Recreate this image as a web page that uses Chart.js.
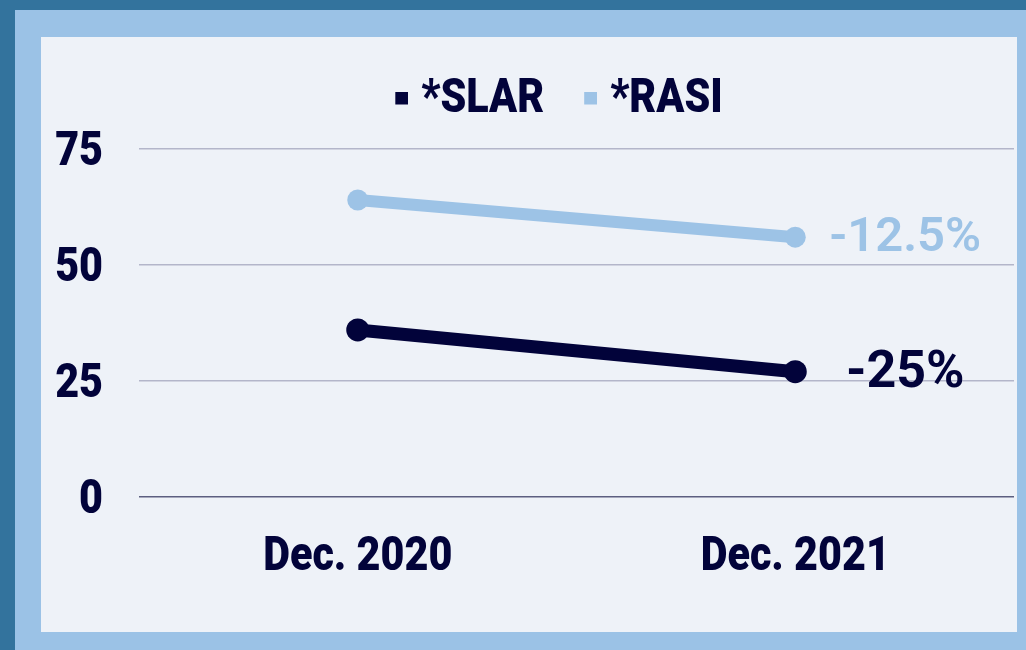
<!DOCTYPE html>
<html>
<head>
<meta charset="utf-8">
<script src="https://cdn.jsdelivr.net/npm/chart.js@4.4.1/dist/chart.umd.min.js"></script>
<style>
    html, body { margin: 0; padding: 0; }
    body { width: 1026px; height: 650px; background: #33739d; position: relative; overflow: hidden; }
    #frame { position: absolute; left: 15px; top: 10px; right: 0; bottom: 0; background: #9bc2e6; }
    #panel { position: absolute; left: 41px; top: 37px; width: 976px; height: 595px; background: #eef2f8; }
</style>
</head>
<body>
<div id="frame"></div>
<div id="panel"><canvas id="chart" width="976" height="595"></canvas></div>
<script>
const categories = ['Dec. 2020', 'Dec. 2021'];
const seriesNames = ['*SLAR', '*RASI'];
const slarValues = [36, 27];
const rasiValues = [64, 56];
const changeLabels = ['-25%', '-12.5%'];
const yTicks = [0, 25, 50, 75];

const NAVY = '#02033a';
const LIGHT = '#9dc3e6';
const FONT = 'Roboto, sans-serif';   // squeezed below, like a condensed face
const FONT_SIZE = 48;
const FONT_WEIGHT = 900;
const SQUEEZE = 0.86;

const LEGEND_H = 102;
const LEGEND_CX = 518;

const canvas = document.getElementById('chart');
const ctx = canvas.getContext('2d');

// no condensed font installed: narrow the label text by hand
const fillTextOrig = ctx.fillText.bind(ctx);
const measureOrig = ctx.measureText.bind(ctx);
const isLabelFont = c => c.font.indexOf('sans-serif') !== -1;
ctx.fillText = function (text, x, y, maxWidth) {
    if (!isLabelFont(this)) return fillTextOrig(text, x, y, maxWidth);
    this.save();
    this.translate(x, y);
    this.scale(SQUEEZE, 1);
    fillTextOrig(text, 0, 0);
    this.restore();
};
ctx.measureText = function (text) {
    const m = measureOrig(text);
    if (!isLabelFont(this)) return m;
    return {
        width: m.width * SQUEEZE,
        actualBoundingBoxAscent: m.actualBoundingBoxAscent,
        actualBoundingBoxDescent: m.actualBoundingBoxDescent
    };
};

// legend square drawn inside a wider canvas so it sits close to its text
function makeSquare(color) {
    const side = 13;
    const off = FONT_SIZE / 2 - side;
    const c = document.createElement('canvas');
    c.width = 2 * (off + side - side / 2);
    c.height = side + 4;
    const g = c.getContext('2d');
    g.fillStyle = color;
    g.fillRect(c.width - side, 0, side, side);
    return c;
}
const legendSquares = [makeSquare(NAVY), makeSquare(LIGHT)];

const layoutPlugin = {
    id: 'layoutFix',
    beforeLayout(chart) {
        const lg = chart.legend;
        if (lg && !lg._patched) {
            const fit = lg.fit;
            lg.fit = function () { fit.call(this); this.height = LEGEND_H; };
            lg._patched = true;
        }
    },
    afterLayout(chart) {
        const lg = chart.legend;
        const shift = FONT_SIZE / 2 - 13;
        const dx = LEGEND_CX - (lg.left + lg.right) / 2 - shift / 2;
        lg.left += dx;
        lg.right += dx;
    }
};

const changePlugin = {
    id: 'changeLabels',
    afterDatasetsDraw(chart) {
        const c = chart.ctx;
        chart.data.datasets.forEach((ds, i) => {
            const meta = chart.getDatasetMeta(i);
            const pt = meta.data[meta.data.length - 1];
            c.save();
            c.font = (i === 0 ? 'bold 52px ' : '600 49px ') + 'Roboto';
            c.fillStyle = ds.borderColor;
            c.textAlign = 'center';
            c.textBaseline = 'middle';
            c.fillText(changeLabels[i], pt.x + 110, pt.y + 2);
            c.restore();
        });
    }
};

new Chart(ctx, {
    type: 'line',
    data: {
        labels: categories,
        datasets: [{
            label: seriesNames[0],
            data: slarValues,
            borderColor: NAVY,
            backgroundColor: NAVY,
            borderWidth: 13,
            pointRadius: 11.5,
            pointBorderWidth: 0,
            pointBackgroundColor: NAVY,
            tension: 0
        }, {
            label: seriesNames[1],
            data: rasiValues,
            borderColor: LIGHT,
            backgroundColor: LIGHT,
            borderWidth: 12,
            pointRadius: 10.5,
            pointBorderWidth: 0,
            pointBackgroundColor: LIGHT,
            tension: 0
        }]
    },
    options: {
        responsive: false,
        animation: false,
        layout: { autoPadding: false, padding: { top: 10, right: 3, left: 0, bottom: 0 } },
        scales: {
            x: {
                offset: true,
                grid: { display: false },
                border: { display: false },
                ticks: {
                    color: NAVY,
                    padding: 24,
                    font: { family: FONT, size: FONT_SIZE, weight: FONT_WEIGHT }
                },
                afterFit: s => {
                    s.height = 135;
                    s.paddingLeft = 0;
                    s.paddingRight = 0;
                }
            },
            y: {
                min: 0,
                max: 75,
                afterBuildTicks: s => { s.ticks = yTicks.map(v => ({ value: v })); },
                grid: {
                    drawTicks: false,
                    lineWidth: 1.5,
                    color: c => c.tick && c.tick.value === 0 ? '#5c5f80' : '#b3b6ca'
                },
                border: { display: false },
                ticks: {
                    color: NAVY,
                    padding: 36,
                    labelOffset: 4,
                    font: { family: FONT, size: FONT_SIZE, weight: FONT_WEIGHT }
                },
                afterFit: s => { s.width = 98; }
            }
        },
        plugins: {
            legend: {
                position: 'top',
                labels: {
                    usePointStyle: true,
                    boxWidth: 13,
                    boxHeight: 13,
                    padding: 29,
                    color: NAVY,
                    font: { family: FONT, size: FONT_SIZE, weight: FONT_WEIGHT, lineHeight: 1 },
                    generateLabels: chart => chart.data.datasets.map((ds, i) => ({
                        text: ds.label,
                        fillStyle: ds.borderColor,
                        strokeStyle: ds.borderColor,
                        lineWidth: 0,
                        pointStyle: legendSquares[i],
                        fontColor: NAVY,
                        hidden: false,
                        datasetIndex: i
                    }))
                }
            },
            tooltip: { enabled: false }
        }
    },
    plugins: [layoutPlugin, changePlugin]
});
</script>
</body>
</html>
